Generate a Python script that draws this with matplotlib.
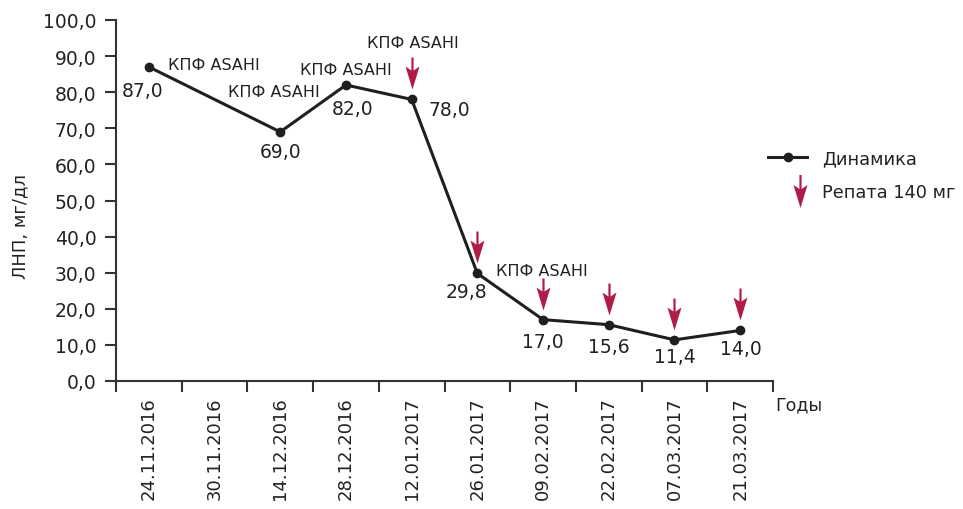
import matplotlib
matplotlib.use("Agg")
import matplotlib.pyplot as plt
from matplotlib.lines import Line2D
from matplotlib.path import Path
from matplotlib.legend_handler import HandlerBase

plt.rcParams['font.family'] = ['DejaVu Sans']

dates = ['24.11.2016', '30.11.2016', '14.12.2016', '28.12.2016', '12.01.2017',
         '26.01.2017', '09.02.2017', '22.02.2017', '07.03.2017', '21.03.2017']
# LDL level per visit, None where no measurement was taken
ldl = [87.0, None, 69.0, 82.0, 78.0, 29.8, 17.0, 15.6, 11.4, 14.0]
# visits with a Repatha 140 mg injection
repatha_dates = ['12.01.2017', '26.01.2017', '09.02.2017', '22.02.2017',
                 '07.03.2017', '21.03.2017']
# visits with a lipoprotein apheresis session
asahi_dates = ['24.11.2016', '14.12.2016', '28.12.2016', '12.01.2017', '26.01.2017']

# value label offsets in pixels (dx, dy), screen y pointing down
value_offsets = {
    '24.11.2016': (-6, 24), '14.12.2016': (0, 20), '28.12.2016': (7, 24),
    '12.01.2017': (38, 10), '26.01.2017': (-11, 18), '09.02.2017': (0, 22),
    '22.02.2017': (0, 22), '07.03.2017': (0, 17), '21.03.2017': (1, 18),
}
asahi_offsets = {
    '24.11.2016': (65, -2), '14.12.2016': (-6, -40), '28.12.2016': (0, -15),
    '12.01.2017': (1, -57), '26.01.2017': (65, -3),
}

RED = '#B01C48'
DARK = '#1f1f1f'
TEXT = '#222222'
PX = 72 / 100  # points per pixel at dpi 100


def down_arrow(tip, top):
    # thin shaft with a narrow, swept-back head; units are pixels
    barb = tip + 23
    notch = tip + 19
    verts = [(-1.1, top), (1.1, top), (1.1, notch), (7, barb), (0, tip),
             (-7, barb), (-1.1, notch), (-1.1, top)]
    codes = [Path.MOVETO] + [Path.LINETO] * 6 + [Path.CLOSEPOLY]
    return Path(verts, codes)


# marker paths are normalised by their largest coordinate, so the marker
# size is chosen to keep one path unit equal to one pixel
point_arrow = down_arrow(10, 42)
point_arrow_ms = 2 * 42 * PX
legend_arrow = down_arrow(-16.5, 16.5)
legend_arrow_ms = 2 * 16.5 * PX

fig = plt.figure(figsize=(9.63, 5.10), dpi=100)
ax = fig.add_axes([116 / 963, 1 - 382 / 510, (773 - 116) / 963, (382 - 21) / 510])

xs = [i for i, v in enumerate(ldl) if v is not None]
ys = [v for v in ldl if v is not None]
ax.plot(xs, ys, color=DARK, lw=2.2, marker='o', ms=6, zorder=3)

for x, v in zip(xs, ys):
    dx, dy = value_offsets[dates[x]]
    ax.annotate(f'{v:.1f}'.replace('.', ','), xy=(x, v), xytext=(dx, -dy),
                textcoords='offset pixels', ha='center', va='center',
                fontsize=13.5, color=TEXT)

for d in asahi_dates:
    i = dates.index(d)
    dx, dy = asahi_offsets[d]
    ax.annotate('КПФ ASAHI', xy=(i, ldl[i]), xytext=(dx, -dy),
                textcoords='offset pixels', ha='center', va='center',
                fontsize=11.5, color=TEXT)

rx = [dates.index(d) for d in repatha_dates]
ry = [ldl[i] for i in rx]
ax.plot(rx, ry, ls='none', marker=point_arrow, ms=point_arrow_ms,
        mfc=RED, mec='none', zorder=4, clip_on=False)

ax.set_xlim(-0.5, len(dates) - 0.5)
ax.set_ylim(0, 100)
ax.set_yticks(range(0, 101, 10))
ax.set_yticklabels([f'{t},0' for t in range(0, 101, 10)])
ax.set_xticks(range(len(dates)))
ax.set_xticklabels(dates, rotation=90)
ax.set_xticks([i - 0.5 for i in range(len(dates) + 1)], minor=True)
ax.tick_params(axis='x', which='major', length=0, pad=11, labelsize=13,
               labelcolor=TEXT)
ax.tick_params(axis='x', which='minor', length=8, width=1.5, color='#333333')
ax.tick_params(axis='y', length=8, width=1.5, color='#333333', pad=6,
               labelsize=13.5, labelcolor=TEXT)

for side in ('top', 'right'):
    ax.spines[side].set_visible(False)
for side in ('left', 'bottom'):
    ax.spines[side].set_linewidth(1.5)
    ax.spines[side].set_color('#333333')

ax.set_ylabel('ЛНП, мг/дл', fontsize=13, color=TEXT)
ax.yaxis.set_label_coords(-0.132, 0.43)
fig.text(775 / 963, 1 - 405 / 510, 'Годы', fontsize=12.5, color=TEXT,
         ha='left', va='center')


class HandlerDownArrow(HandlerBase):
    def create_artists(self, legend, orig_handle, xdescent, ydescent,
                       width, height, fontsize, trans):
        x = -xdescent + width * 0.82
        y = -ydescent + height / 2
        arr = Line2D([x], [y], ls='none', marker=legend_arrow,
                     ms=legend_arrow_ms, mfc=RED, mec='none')
        arr.set_transform(trans)
        return [arr]


line_handle = Line2D([], [], color=DARK, lw=2.2, marker='o', ms=6)
arrow_handle = object()
ax.legend([line_handle, arrow_handle], ['Динамика', 'Репата 140 мг'],
          handler_map={object: HandlerDownArrow()},
          loc='upper left', bbox_to_anchor=(768 / 963, 1 - 150 / 510),
          bbox_transform=fig.transFigure, frameon=False, fontsize=12.8,
          labelcolor=TEXT, borderpad=0, borderaxespad=0, handlelength=2.2,
          handletextpad=0.85, labelspacing=0.9)

fig.savefig('out.png', dpi=100)
